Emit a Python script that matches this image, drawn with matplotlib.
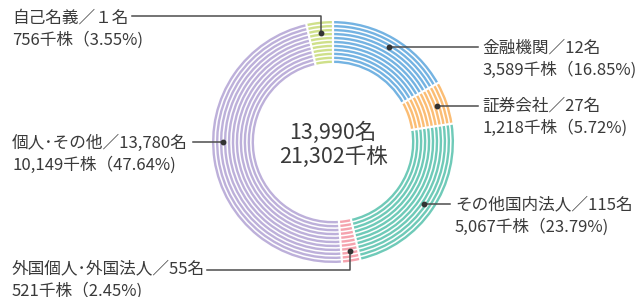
import matplotlib.pyplot as plt
import numpy as np

plt.rcParams['font.family'] = ['Noto Sans CJK JP', 'DejaVu Sans']

# shareholder composition
names = ['金融機関', '証券会社', 'その他国内法人', '外国個人･外国法人', '個人･その他', '自己名義']
holders = ['12', '27', '115', '55', '13,780', '１']
shares = ['3,589', '1,218', '5,067', '521', '10,149', '756']
ratios = [16.85, 5.72, 23.79, 2.45, 47.64, 3.55]
colors = ['#74b3e2', '#fbbd74', '#6fcab8', '#f5a3ae', '#bdb0da', '#cfe08a']
total_holders = '13,990'
total_shares = '21,302'

# layout in pixels (y down)
cx, cy = 333, 142
r_out, r_in = 121, 79
n_rings = 11
stripe = 2.4
period = (r_out - r_in - stripe) / (n_rings - 1)

text_col = '#3a3a3a'
line_col = '#4d4d4d'

fig = plt.figure(figsize=(6.4, 2.97), dpi=100)
ax = fig.add_axes([0, 0, 1, 1])

for i in range(n_rings):
    r = r_out - i * period
    ax.pie(ratios, radius=r, center=(cx, cy), startangle=-90, counterclock=True,
           colors=colors, wedgeprops=dict(width=stripe, linewidth=0), frame=True)

# white gaps between segments
bounds = np.deg2rad(-90 + 360 * np.cumsum([0] + ratios) / sum(ratios))
for t in bounds[:-1]:
    ax.plot([cx + (r_in - 1) * np.cos(t), cx + (r_out + 1) * np.cos(t)],
            [cy + (r_in - 1) * np.sin(t), cy + (r_out + 1) * np.sin(t)],
            color='white', lw=1.6, solid_capstyle='butt', zorder=3)

# labels: text x, first line centre y, leader knee y (None = straight), leader end x
labels = [
    (482, 48, None, 478),
    (482, 106, None, 478),
    (455, 205, None, 450),
    (12, 269, 270, 207),
    (12, 143, None, 193),
    (12, 18, 16, 132),
]
mids = (bounds[:-1] + bounds[1:]) / 2
mids[4] = np.deg2rad(180)  # individuals leader points straight left
r_dot = 110

for k, (tx, ty, knee, ex) in enumerate(labels):
    dx = cx + r_dot * np.cos(mids[k])
    dy = cy + r_dot * np.sin(mids[k])
    if knee is None:
        xs, ys = [dx, ex], [dy, dy]
    else:
        xs, ys = [dx, dx, ex], [dy, knee, knee]
    ax.plot(xs, ys, color=line_col, lw=1.1, zorder=4)
    ax.plot(dx, dy, 'o', color='#333333', ms=3.2, zorder=5)
    ax.text(tx, ty, f'{names[k]}／{holders[k]}名', fontsize=12, color=text_col,
            ha='left', va='center')
    ax.text(tx, ty + 22, f'{shares[k]}千株（{ratios[k]:.2f}%)', fontsize=12,
            color=text_col, ha='left', va='center')

ax.text(cx, 133, f'{total_holders}名', fontsize=15.5, color=text_col, ha='center', va='center')
ax.text(cx, 157, f'{total_shares}千株', fontsize=15.5, color=text_col, ha='center', va='center')

ax.set_xlim(0, 640)
ax.set_ylim(297, 0)
ax.set_aspect('equal')
ax.axis('off')

fig.savefig('out.png', dpi=100)
